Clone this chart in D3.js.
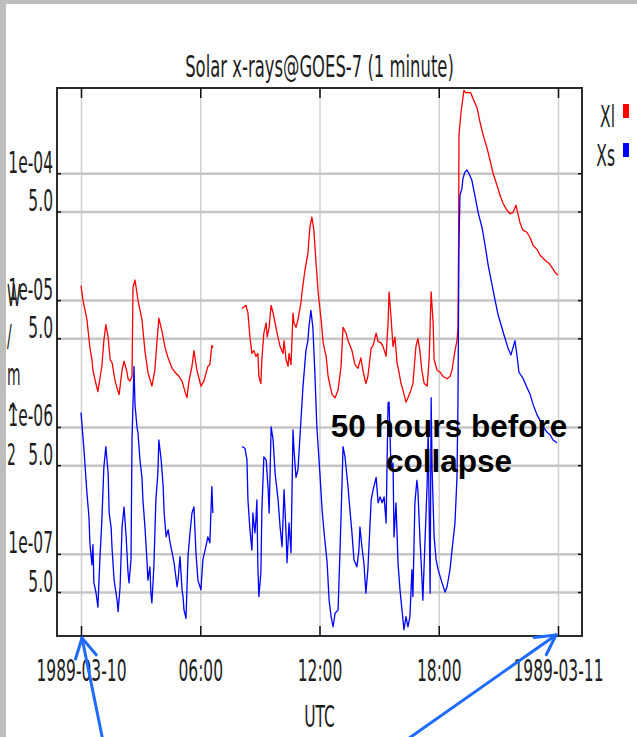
<!DOCTYPE html>
<html>
<head>
<meta charset="utf-8">
<script src="https://cdn.jsdelivr.net/npm/d3@7"></script>
<style>
  body { margin: 0; background: #fff; }
  svg text { font-family: "DejaVu Sans", sans-serif; }
  svg text.not { font-family: "Liberation Sans", Arial, sans-serif; font-weight: bold; }
</style>
</head>
<body>
<div id="grafik"></div>
<script>
// eksen degerleri
const xTickTimes = ["00:00", "06:00", "12:00", "18:00", "24:00"];
const xTickLabels = ["1989-03-10", "06:00", "12:00", "18:00", "1989-03-11"];
const yTickValues = [1e-4, 5e-5, 1e-5, 5e-6, 1e-6, 5e-7, 1e-7, 5e-8];
const yTickLabels = ["1e-04", "5.0", "1e-05", "5.0", "1e-06", "5.0", "1e-07", "5.0"];
const yLabelChars = ["W", "/", "m", "^", "2"];
const seriesNames = ["Xl", "Xs"];
const seriesColors = ["#ff0000", "#0000ff"];

// Xl (uzun dalga, kirmizi) - UTC saat ve W/m^2
const xlTimes = [
  "00:00", "00:06", "00:18", "00:27", "00:33", "00:36", "00:45", "00:51",
  "01:00", "01:03", "01:09", "01:15", "01:22", "01:28", "01:34", "01:43",
  "01:52", "01:55", "02:04", "02:10", "02:19", "02:22", "02:28", "02:34",
  "02:37", "02:43", "02:52", "03:04", "03:13", "03:22", "03:34", "03:43",
  "03:49", "03:55", "04:05", "04:14", "04:23", "04:35", "04:44", "04:56",
  "05:05", "05:14", "05:20", "05:26", "05:35", "05:41", "05:50", "06:02",
  "06:11", "06:23", "06:29", "06:35", "06:38",
  "08:06", "08:18", "08:24", "08:30", "08:36", "08:42", "08:48", "08:54",
  "08:57", "09:03", "09:06", "09:12", "09:19", "09:22", "09:28", "09:34",
  "09:40", "09:52", "10:01", "10:10", "10:13", "10:19", "10:25", "10:28",
  "10:34", "10:40", "10:43", "10:49", "10:55", "11:04", "11:07", "11:16",
  "11:25", "11:31", "11:37", "11:43", "11:49", "11:56", "12:05", "12:11",
  "12:20", "12:26", "12:38", "12:47", "12:56", "13:05", "13:11", "13:20",
  "13:26", "13:38", "13:47", "13:56", "14:05", "14:11", "14:20", "14:26",
  "14:36", "14:42", "14:51", "14:57", "15:06", "15:12", "15:21", "15:27",
  "15:30", "15:36", "15:42", "15:48", "15:54", "16:00", "16:06", "16:12",
  "16:21", "16:27", "16:36", "16:42", "16:51", "16:57", "17:03", "17:09",
  "17:16", "17:25", "17:31", "17:37", "17:43", "17:46", "17:55", "18:04",
  "18:13", "18:25", "18:34", "18:40", "18:49", "18:55", "18:58", "19:00",
  "19:01", "19:07", "19:13", "19:16", "19:22", "19:28", "19:37", "19:43",
  "19:56", "20:05", "20:14", "20:26", "20:35", "20:44", "20:56", "21:05",
  "21:14", "21:26", "21:35", "21:44", "21:53", "21:59", "22:05", "22:14",
  "22:26", "22:36", "22:45", "22:57", "23:06", "23:15", "23:27", "23:33",
  "23:42", "23:51", "24:00"
];
const xlFlux = [
  1.3e-5, 1.0e-5, 7.0e-6, 4.2e-6, 3.4e-6, 2.8e-6, 2.2e-6, 1.9e-6,
  2.7e-6, 3.0e-6, 4.8e-6, 6.4e-6, 5.1e-6, 3.4e-6, 3.2e-6, 2.3e-6,
  1.9e-6, 1.8e-6, 2.8e-6, 3.3e-6, 2.7e-6, 2.4e-6, 2.3e-6, 2.5e-6,
  1.26e-5, 1.44e-5, 1.0e-5, 7.0e-6, 4.0e-6, 2.7e-6, 2.1e-6, 2.8e-6,
  4.6e-6, 7.2e-6, 5.6e-6, 4.2e-6, 3.5e-6, 2.9e-6, 2.7e-6, 2.5e-6,
  2.3e-6, 1.9e-6, 1.7e-6, 2.3e-6, 3.0e-6, 4.0e-6, 2.8e-6, 2.1e-6,
  2.3e-6, 3.0e-6, 3.1e-6, 4.4e-6, 4.2e-6,
  8.6e-6, 9.1e-6, 7.9e-6, 5.1e-6, 3.8e-6, 4.0e-6, 3.6e-6, 3.8e-6,
  2.5e-6, 2.2e-6, 3.4e-6, 5.5e-6, 6.6e-6, 5.1e-6, 6.1e-6, 9.1e-6,
  7.9e-6, 5.5e-6, 4.3e-6, 3.8e-6, 4.8e-6, 3.4e-6, 3.0e-6, 3.8e-6,
  3.1e-6, 7.9e-6, 6.6e-6, 6.1e-6, 7.0e-6, 9.5e-6, 1.14e-5, 1.72e-5,
  2.34e-5, 3.76e-5, 4.5e-5, 3.56e-5, 2.06e-5, 1.14e-5, 7.0e-6, 4.6e-6,
  3.6e-6, 2.5e-6, 1.8e-6, 1.7e-6, 1.95e-6, 3.0e-6, 6.1e-6, 5.5e-6,
  4.8e-6, 4.0e-6, 3.1e-6, 2.9e-6, 3.5e-6, 2.8e-6, 2.2e-6, 2.5e-6,
  4.2e-6, 4.4e-6, 5.5e-6, 4.7e-6, 4.6e-6, 4.3e-6, 3.6e-6, 6.6e-6,
  1.16e-5, 7.3e-6, 4.3e-6, 5.1e-6, 3.2e-6, 2.7e-6, 2.2e-6, 1.95e-6,
  1.57e-6, 1.7e-6, 1.95e-6, 2.2e-6, 4.3e-6, 5.0e-6, 4.0e-6, 2.8e-6,
  2.2e-6, 2.1e-6, 3.4e-6, 1.16e-5, 6.6e-6, 3.4e-6, 2.8e-6, 2.7e-6,
  2.5e-6, 2.4e-6, 2.5e-6, 2.8e-6, 4.0e-6, 4.8e-6, 6.0e-6, 2.9e-5,
  2.0e-4, 3.0e-4, 3.9e-4, 4.5e-4, 4.3e-4, 4.35e-4, 4.3e-4, 3.9e-4,
  3.25e-4, 2.5e-4, 2.0e-4, 1.57e-4, 1.26e-4, 1.0e-4, 8.0e-5, 6.7e-5,
  5.8e-5, 5.1e-5, 4.8e-5, 4.9e-5, 5.6e-5, 4.8e-5, 4.1e-5, 3.56e-5,
  3.43e-5, 3.1e-5, 2.7e-5, 2.5e-5, 2.26e-5, 2.14e-5, 2.0e-5, 1.95e-5,
  1.8e-5, 1.66e-5, 1.57e-5
];

// Xs (kisa dalga, mavi)
const xsTimes = [
  "00:00", "00:09", "00:18", "00:24", "00:27", "00:33", "00:36", "00:39",
  "00:45", "00:51", "00:57", "01:03", "01:09", "01:15", "01:22", "01:25",
  "01:31", "01:34", "01:40", "01:49", "01:52", "01:58", "02:04", "02:10",
  "02:16", "02:22", "02:25", "02:31", "02:34", "02:40", "02:43", "02:49",
  "02:52", "02:58", "03:04", "03:07", "03:13", "03:19", "03:22", "03:28",
  "03:31", "03:34", "03:40", "03:46", "03:52", "03:55", "04:02", "04:08",
  "04:11", "04:17", "04:23", "04:29", "04:35", "04:41", "04:50", "04:53",
  "04:59", "05:05", "05:08", "05:11", "05:17", "05:23", "05:29", "05:35",
  "05:41", "05:47", "05:53", "06:02", "06:08", "06:17", "06:23", "06:29",
  "06:35", "06:38",
  "08:06", "08:15", "08:21", "08:24", "08:30", "08:36", "08:39", "08:45",
  "08:48", "08:51", "08:54", "08:57", "09:03", "09:06", "09:12", "09:19",
  "09:25", "09:28", "09:34", "09:40", "09:46", "09:55", "10:01", "10:07",
  "10:13", "10:19", "10:22", "10:28", "10:34", "10:40", "10:43", "10:49",
  "10:55", "11:04", "11:10", "11:19", "11:25", "11:28", "11:34", "11:40",
  "11:46", "11:52", "12:02", "12:08", "12:14", "12:23", "12:29", "12:35",
  "12:41", "12:47", "12:56", "13:02", "13:08", "13:11", "13:17", "13:26",
  "13:32", "13:38", "13:44", "13:53", "13:59", "14:02", "14:08", "14:14",
  "14:20", "14:26", "14:36", "14:42", "14:51", "14:57", "15:03", "15:09",
  "15:15", "15:21", "15:27", "15:30", "15:36", "15:42", "15:45", "15:51",
  "15:57", "16:03", "16:09", "16:15", "16:21", "16:27", "16:33", "16:39",
  "16:42", "16:48", "16:54", "16:57", "17:03", "17:09", "17:12", "17:19",
  "17:25", "17:28", "17:34", "17:37", "17:40", "17:46", "17:52", "17:58",
  "18:10", "18:19", "18:25", "18:34", "18:40", "18:49", "18:55", "18:58",
  "19:01", "19:04", "19:10", "19:13", "19:19", "19:25", "19:31", "19:40",
  "19:49", "19:59", "20:11", "20:20", "20:29", "20:41", "20:50", "20:59",
  "21:11", "21:20", "21:29", "21:38", "21:44", "21:50", "21:56", "22:02",
  "22:14", "22:23", "22:36", "22:45", "22:57", "23:09", "23:18", "23:27",
  "23:36", "23:45", "23:57"
];
const xsFlux = [
  1.3e-6, 6.6e-7, 3.0e-7, 1.95e-7, 1.2e-7, 8.2e-8, 1.18e-7, 5.9e-8,
  5.0e-8, 3.8e-8, 9.0e-8, 1.85e-7, 4.8e-7, 7.0e-7, 4.3e-7, 2.1e-7,
  1.6e-7, 1.07e-7, 6.2e-8, 4.3e-8, 3.5e-8, 5.5e-8, 1.63e-7, 2.34e-7,
  1.4e-7, 7.1e-8, 5.9e-8, 9.0e-8, 7.9e-7, 3.0e-6, 1.5e-6, 1.0e-6,
  9.0e-7, 5.5e-7, 4.0e-7, 2.66e-7, 1.63e-7, 9.0e-8, 6.2e-8, 7.9e-8,
  4.9e-8, 4.1e-8, 7.9e-8, 2.66e-7, 4.3e-7, 7.9e-7, 5.5e-7, 3.4e-7,
  2.1e-7, 1.36e-7, 1.55e-7, 1.22e-7, 1.02e-7, 8.5e-8, 5.5e-8, 6.2e-8,
  9.5e-8, 5.2e-8, 4.6e-8, 3.6e-8, 3.1e-8, 9.5e-8, 1.46e-7, 2.1e-7,
  2.34e-7, 1.02e-7, 6.2e-8, 5.2e-8, 9.0e-8, 1.14e-7, 1.36e-7, 1.22e-7,
  3.4e-7, 2.1e-7,
  7.0e-7, 6.8e-7, 5.5e-7, 2.66e-7, 1.55e-7, 1.07e-7, 2.1e-7, 1.46e-7,
  1.85e-7, 2.66e-7, 7.9e-8, 4.6e-8, 7.1e-8, 2.2e-7, 5.8e-7, 5.5e-7,
  3.2e-7, 2.1e-7, 1.0e-6, 7.9e-7, 4.3e-7, 2.66e-7, 1.63e-7, 1.14e-7,
  3.2e-7, 1.46e-7, 8.5e-8, 1.75e-7, 1.02e-7, 9.5e-7, 6.6e-7, 4.0e-7,
  4.6e-7, 1.13e-6, 2.06e-6, 4.0e-6, 4.8e-6, 6.1e-6, 8.3e-6, 6.1e-6,
  2.66e-6, 1.0e-6, 4.0e-7, 2.2e-7, 1.46e-7, 8.5e-8, 4.3e-8, 3.2e-8,
  2.66e-8, 3.4e-8, 3.6e-8, 1.07e-7, 3.6e-7, 7.0e-7, 5.8e-7, 3.4e-7,
  2.2e-7, 1.46e-7, 9.0e-8, 7.9e-8, 1.07e-7, 1.63e-7, 1.14e-7, 8.5e-8,
  4.9e-8, 7.5e-8, 2.66e-7, 3.2e-7, 4.0e-7, 2.52e-7, 2.81e-7, 2.52e-7,
  2.81e-7, 1.75e-7, 1.55e-6, 1.57e-6, 4.6e-7, 5.2e-7, 1.36e-7, 2.52e-7,
  8.5e-8, 5.2e-8, 3.6e-8, 2.52e-8, 3.2e-8, 2.66e-8, 3.2e-8, 7.5e-8,
  4.6e-8, 2.52e-7, 3.8e-7, 3.2e-7, 1.36e-7, 6.6e-8, 4.3e-8, 1.36e-7,
  3.6e-7, 9.5e-7, 4.9e-8, 1.7e-6, 4.6e-7, 1.36e-7, 9.0e-8, 7.5e-8,
  5.9e-8, 5.0e-8, 5.5e-8, 7.5e-8, 1.07e-7, 1.75e-7, 4.0e-7, 1.55e-6,
  2.7e-5, 6.7e-5, 7.6e-5, 9.1e-5, 1.02e-4, 1.06e-4, 1.0e-4, 8.8e-5,
  6.7e-5, 4.9e-5, 3.7e-5, 2.7e-5, 1.9e-5, 1.31e-5, 1.0e-5, 7.7e-6,
  6.0e-6, 5.0e-6, 4.2e-6, 3.7e-6, 4.2e-6, 4.8e-6, 3.7e-6, 2.7e-6,
  2.43e-6, 2.14e-6, 1.8e-6, 1.5e-6, 1.24e-6, 1.09e-6, 9.8e-7, 9.1e-7,
  8.7e-7, 7.9e-7, 7.5e-7
];

const genislik = 637;
const yukseklik = 737;
const cerceve = { sol: 57, sag: 582, ust: 88, alt: 636 };
const icBosluk = 24;
const SX = 0.5; // dar yazi tipi icin yatay sikistirma

// "HH:MM" -> 1989-03-10 UTC
function saat(hhmm) {
  const [h, m] = hhmm.split(":").map(Number);
  return new Date(Date.UTC(1989, 2, 10, h, m));
}

// veri kesintisinde cizgiyi bol
function parcala(zamanlar, akilar) {
  const noktalar = d3.zip(zamanlar, akilar).map(([t, v]) => ({ t: saat(t), v }));
  const parcalar = [[]];
  noktalar.forEach((p, i) => {
    if (i > 0 && (p.t - noktalar[i - 1].t) > 60 * 60 * 1000) parcalar.push([]);
    parcalar[parcalar.length - 1].push(p);
  });
  return parcalar;
}

const seriler = [parcala(xlTimes, xlFlux), parcala(xsTimes, xsFlux)];

const x = d3.scaleUtc()
  .domain([saat("00:00"), saat("24:00")])
  .range([cerceve.sol + icBosluk, cerceve.sag - icBosluk]);

const y = d3.scaleLog()
  .domain([2.25e-8, 4.7e-4])
  .range([cerceve.alt, cerceve.ust]);

const xTickDates = xTickTimes.map(saat);

const svg = d3.select("#grafik")
  .append("svg")
  .attr("width", genislik)
  .attr("height", yukseklik)
  .style("display", "block");

svg.append("rect").attr("width", genislik).attr("height", yukseklik).attr("fill", "#fff");
// ekran goruntusu kenarligi
svg.append("rect").attr("x", 0).attr("y", 0).attr("width", 6).attr("height", yukseklik).attr("fill", "#bdbdbd");
svg.append("rect").attr("x", 0).attr("y", 0).attr("width", genislik).attr("height", 4).attr("fill", "#bdbdbd");

// Izgara cizgileri
svg.append("g")
  .attr("transform", `translate(0,${cerceve.alt})`)
  .call(d3.axisBottom(x).tickValues(xTickDates).tickSize(-(cerceve.alt - cerceve.ust)).tickFormat(""))
  .call(g => g.select(".domain").remove())
  .call(g => g.selectAll("line").attr("stroke", "#d0d0d0").attr("stroke-width", 1.5));

svg.append("g")
  .attr("transform", `translate(${cerceve.sol},0)`)
  .call(d3.axisLeft(y).tickValues(yTickValues).tickSize(-(cerceve.sag - cerceve.sol)).tickFormat(""))
  .call(g => g.select(".domain").remove())
  .call(g => g.selectAll("line").attr("stroke", "#c6c6c6").attr("stroke-width", 2.5));

// Seriler
svg.append("clipPath").attr("id", "kirp")
  .append("rect")
  .attr("x", cerceve.sol).attr("y", cerceve.ust)
  .attr("width", cerceve.sag - cerceve.sol).attr("height", cerceve.alt - cerceve.ust);

const cizgi = d3.line().x(d => x(d.t)).y(d => y(d.v));

seriler.forEach((parcalar, i) => {
  svg.append("g")
    .attr("clip-path", "url(#kirp)")
    .selectAll("path")
    .data(parcalar)
    .enter()
    .append("path")
    .attr("d", cizgi)
    .attr("fill", "none")
    .attr("stroke", seriesColors[i])
    .attr("stroke-width", 1.3)
    .attr("stroke-linejoin", "round");
});

// Cerceve
svg.append("rect")
  .attr("x", cerceve.sol).attr("y", cerceve.ust)
  .attr("width", cerceve.sag - cerceve.sol).attr("height", cerceve.alt - cerceve.ust)
  .attr("fill", "none").attr("stroke", "#2b2b2b").attr("stroke-width", 2);

const yaziRengi = "#1e1e1e";

// Alt eksen (etiketli)
svg.append("g")
  .attr("transform", `translate(0,${cerceve.alt})`)
  .call(d3.axisBottom(x).tickValues(xTickDates).tickSizeInner(-10).tickSizeOuter(0)
    .tickFormat((d, i) => xTickLabels[i]))
  .call(g => g.select(".domain").remove())
  .call(g => g.selectAll("line").attr("stroke", "#111").attr("stroke-width", 1.5))
  .call(g => g.selectAll("text")
    .attr("y", null).attr("dy", null)
    .attr("font-size", 31).attr("fill", yaziRengi)
    .attr("transform", `translate(0,45) scale(${SX},1)`));

// Ust eksen
svg.append("g")
  .attr("transform", `translate(0,${cerceve.ust})`)
  .call(d3.axisTop(x).tickValues(xTickDates).tickSizeInner(-10).tickSizeOuter(0).tickFormat(""))
  .call(g => g.select(".domain").remove())
  .call(g => g.selectAll("line").attr("stroke", "#111").attr("stroke-width", 1.5));

// Sol eksen (etiketli)
svg.append("g")
  .attr("transform", `translate(${cerceve.sol},0)`)
  .call(d3.axisLeft(y).tickValues(yTickValues).tickSizeInner(-4).tickSizeOuter(0)
    .tickFormat((d, i) => yTickLabels[i]))
  .call(g => g.select(".domain").remove())
  .call(g => g.selectAll("line").attr("stroke", "#111").attr("stroke-width", 1.5))
  .call(g => g.selectAll("text")
    .attr("x", null).attr("dy", null)
    .attr("font-size", 31).attr("fill", yaziRengi)
    .attr("text-anchor", "end")
    .attr("transform", `translate(-4,-1) scale(${SX},1)`));

// Sag eksen
svg.append("g")
  .attr("transform", `translate(${cerceve.sag},0)`)
  .call(d3.axisRight(y).tickValues(yTickValues).tickSizeInner(-4).tickSizeOuter(0).tickFormat(""))
  .call(g => g.select(".domain").remove())
  .call(g => g.selectAll("line").attr("stroke", "#111").attr("stroke-width", 1.5));

// Baslik ve eksen adlari
function darYazi(metin, px, py, sx, anchor) {
  return svg.append("text")
    .attr("transform", `translate(${px},${py}) scale(${sx},1)`)
    .attr("text-anchor", anchor || "middle")
    .attr("font-size", 31)
    .attr("fill", yaziRengi)
    .text(metin);
}

darYazi("Solar x-rays@GOES-7 (1 minute)", (cerceve.sol + cerceve.sag) / 2, 77, 0.53);
darYazi("UTC", x(saat("12:00")), 727, SX);

const yEtiketSatirlari = [306, 346, 385, 425, 465];
yLabelChars.forEach((c, i) => darYazi(c, 7, yEtiketSatirlari[i], 0.45, "start"));

// Gosterge
seriesNames.forEach((ad, i) => {
  const satir = 127 + i * 39;
  darYazi(ad, 615, satir, SX, "end");
  svg.append("rect")
    .attr("x", 623).attr("y", satir - 23)
    .attr("width", 6).attr("height", 14)
    .attr("fill", seriesColors[i]);
});

// Not
const not = svg.append("text")
  .attr("class", "not")
  .attr("text-anchor", "middle")
  .attr("font-size", 31.5)
  .attr("fill", "#000");
not.append("tspan").attr("x", 449).attr("y", 437).text("50 hours before");
not.append("tspan").attr("x", 449).attr("y", 472).text("collapse");

// Oklar: gunun basi ve sonu
const okRengi = "#1f6bff";
const oklar = [
  { uc: [x(saat("00:00")) + 1, cerceve.alt + 2], kuyruk: [103, yukseklik + 4] },
  { uc: [x(saat("24:00")) - 2, cerceve.alt - 1], kuyruk: [405, yukseklik + 4] }
];
oklar.forEach(ok => {
  const [ux, uy] = ok.uc;
  const [kx, ky] = ok.kuyruk;
  const aci = Math.atan2(ky - uy, kx - ux);
  const boy = 22, acik = 0.5;
  const kol = s => [ux + boy * Math.cos(aci + s * acik), uy + boy * Math.sin(aci + s * acik)];
  const g = svg.append("g")
    .attr("stroke", okRengi).attr("stroke-width", 3)
    .attr("stroke-linecap", "round").attr("fill", "none");
  g.append("line").attr("x1", kx).attr("y1", ky).attr("x2", ux).attr("y2", uy);
  [-1, 1].forEach(s => {
    const [ax, ay] = kol(s);
    g.append("line").attr("x1", ux).attr("y1", uy).attr("x2", ax).attr("y2", ay);
  });
});
</script>
</body>
</html>
